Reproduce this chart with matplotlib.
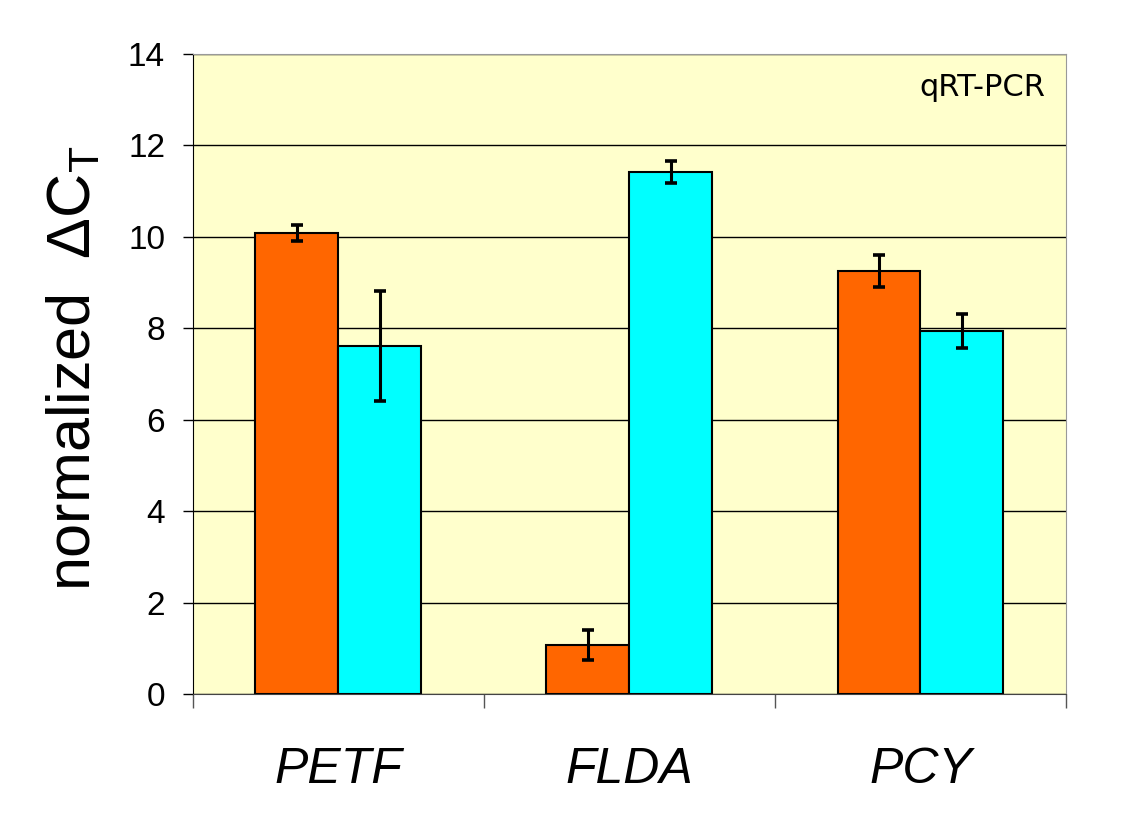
import numpy as np
import matplotlib.pyplot as plt

# qRT-PCR normalized delta CT values
genes = ['PETF', 'FLDA', 'PCY']
orange_vals = [10.08, 1.07, 9.25]
orange_err = [0.18, 0.32, 0.35]
cyan_vals = [7.61, 11.42, 7.94]
cyan_err = [1.21, 0.25, 0.37]

plt.rcParams['font.family'] = ['Liberation Sans', 'DejaVu Sans']
plt.rcParams['mathtext.fontset'] = 'custom'
plt.rcParams['mathtext.rm'] = 'Liberation Sans'

fig = plt.figure(figsize=(11.28, 8.22), dpi=100)
ax = fig.add_axes([0.171, 0.1557, 0.774, 0.7786])
ax.set_facecolor('#FFFFCC')

x = np.arange(len(genes))
w = 0.285
ax.set_axisbelow(True)
ax.yaxis.grid(True, color='black', linewidth=1)
ax.bar(x - w / 2, orange_vals, w, color='#FF6600', edgecolor='black', linewidth=1.5, zorder=2)
ax.bar(x + w / 2, cyan_vals, w, color='#00FFFF', edgecolor='black', linewidth=1.5, zorder=2)
ax.errorbar(x - w / 2, orange_vals, yerr=orange_err, fmt='none', ecolor='black',
            elinewidth=2.2, capsize=4, capthick=2.6, zorder=3)
ax.errorbar(x + w / 2, cyan_vals, yerr=cyan_err, fmt='none', ecolor='black',
            elinewidth=2.2, capsize=4, capthick=2.6, zorder=3)

ax.set_xlim(-0.5, 2.5)
ax.set_ylim(0, 14)
ax.set_yticks(range(0, 15, 2))
ax.tick_params(axis='y', labelsize=24, length=7, width=1, pad=13)

# boundary ticks between categories
ax.set_xticks([-0.5, 0.5, 1.5, 2.5])
ax.set_xticklabels([])
ax.tick_params(axis='x', length=10, width=1, direction='out', colors='#555555')
for xi, g in zip(x, genes):
    ax.text(xi, -0.139, g, transform=ax.get_xaxis_transform(), ha='center',
            va='baseline', fontsize=36, style='italic')

for s in ['top', 'right']:
    ax.spines[s].set_color('#999999')
ax.spines['left'].set_color('black')
ax.spines['bottom'].set_color('#444444')

fig.text(0.066, 0.552, r'normalized  $\Delta$C$_{\mathrm{T}}$', rotation=90,
         ha='center', va='center', fontsize=44)
ax.text(0.976, 0.947, 'qRT-PCR', transform=ax.transAxes, ha='right', va='center',
        fontsize=22, family='DejaVu Sans')

fig.savefig('out.png', dpi=100)
